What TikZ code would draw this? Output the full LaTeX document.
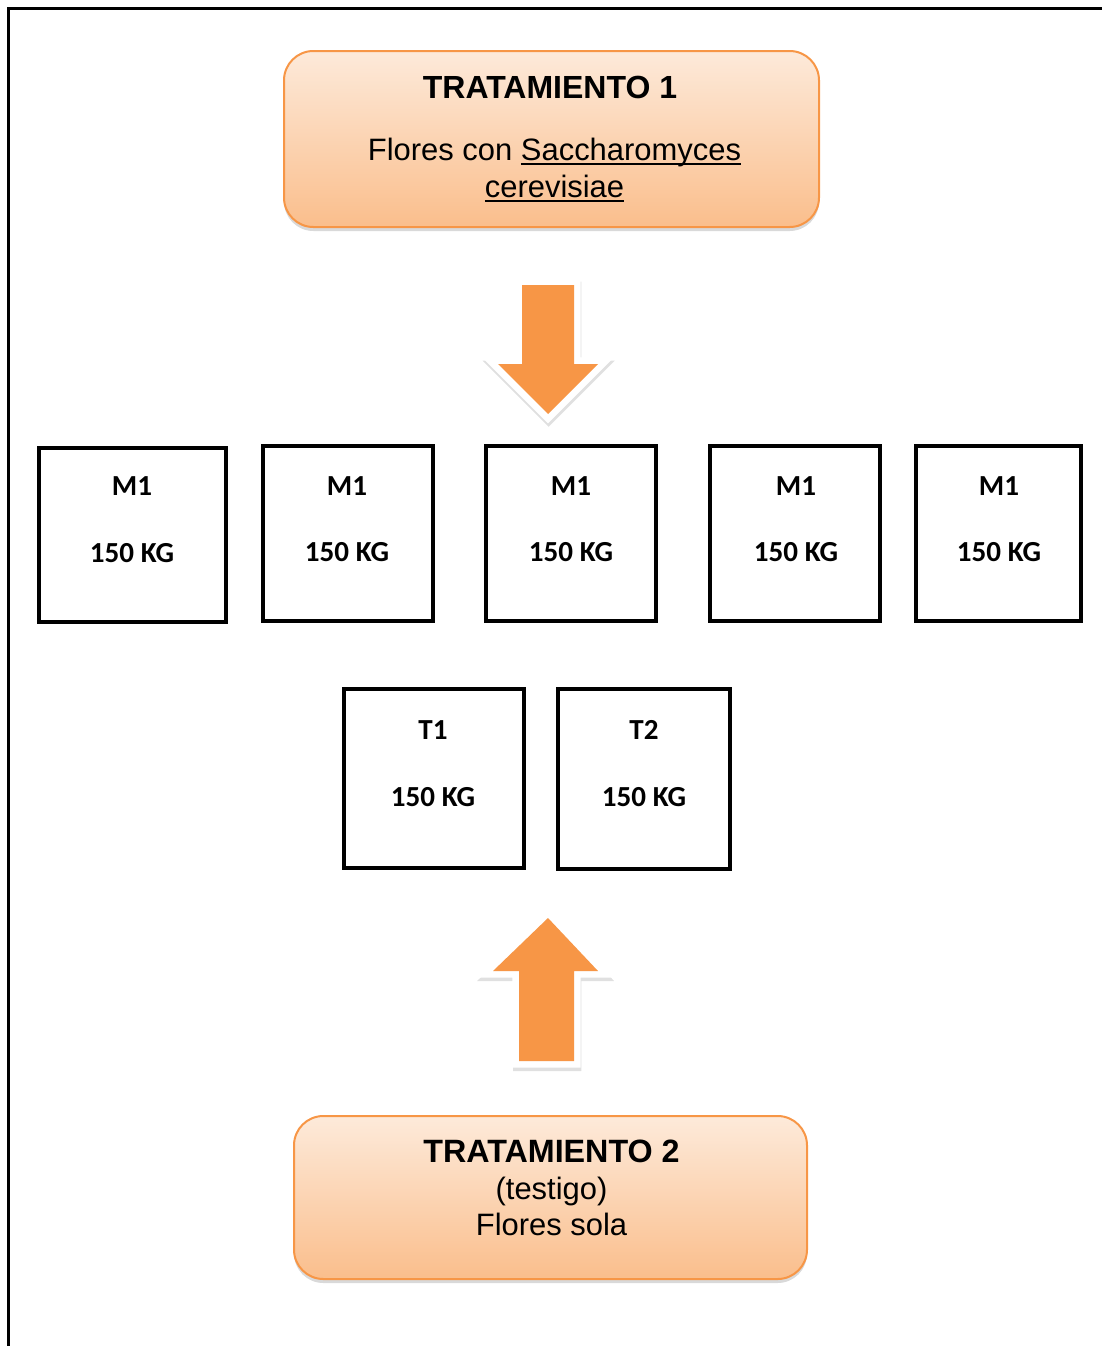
\documentclass[tikz,border=0pt]{standalone}
\usepackage{fontspec}
\setmainfont{Liberation Sans}
\newfontfamily\calibrifont{Carlito}
\usetikzlibrary{positioning, fit, shadows}

\newsavebox\ulbox
\newcommand{\ulword}[1]{\sbox\ulbox{#1}\rlap{\rule[-3.5pt]{\wd\ulbox}{1.3pt}}\usebox\ulbox}

\definecolor{accorange}{RGB}{247,150,70}
\definecolor{gradtop}{RGB}{253,234,218}
\definecolor{gradbot}{RGB}{250,190,140}

\tikzset{
    tratbox/.style={draw=accorange, line width=1.5pt, rounded corners=22pt, top color=gradtop, bottom color=gradbot, inner sep=0pt, drop shadow={shadow xshift=0pt, shadow yshift=-3pt, opacity=0.3}},
    tratext/.style={align=center, inner sep=0pt, font=\fontsize{23.2}{27.5}\selectfont},
    mbox/.style={draw=black, line width=3.2pt, inner sep=0pt},
    mtext/.style={align=center, inner sep=0pt, font=\calibrifont\bfseries\fontsize{21.8}{50}\selectfont},
    blockarrow/.style={fill=accorange, line join=miter,
        preaction={draw=black!12, fill=black!12, line width=10pt, line join=miter, transform canvas={shift={(0.5pt,-2.5pt)}}},
        preaction={draw=white, line width=10pt, line join=miter}}
}

\begin{document}
\begin{tikzpicture}[x=0.75pt, y=-0.75pt]
        \useasboundingbox (0,0) rectangle (1101,1346);

        % -----------------------------------------------------------------
        % MARCO
        % -----------------------------------------------------------------
        \draw[line width=2.4pt] (8.5,1350) -- (8.5,8.5) -- (1105,8.5);

        % -----------------------------------------------------------------
        % TRATAMIENTO 1
        % -----------------------------------------------------------------
        \node[tratbox, fit={(284,51) (819,227)}] (trat1) {};
        \node[tratext, font=\bfseries\fontsize{24}{27.5}\selectfont] (trat1title) at (550,87) {TRATAMIENTO 1};
        \node[tratext] (trat1body) at (554.5,170) {Flores con \ulword{Saccharomyces}\\\ulword{cerevisiae}};

        % flecha hacia abajo
        \path[blockarrow] (522,285) -- (574,285) -- (574,364) -- (598,364) -- (548,414) -- (498,364) -- (522,364) -- cycle;

        % -----------------------------------------------------------------
        % MUESTRAS M1
        % -----------------------------------------------------------------
        \node[mbox, fit={(39,448) (226,622)}] (m1a) {};
        \node[mtext] (m1atext) at (132,519.5) {M1\\150 KG};

        \node[mbox, fit={(263,446) (433,621)}] (m1b) {};
        \node[mtext] (m1btext) at (347,519) {M1\\150 KG};

        \node[mbox, fit={(486,446) (656,621)}] (m1c) {};
        \node[mtext] (m1ctext) at (571,519) {M1\\150 KG};

        \node[mbox, fit={(710,446) (880,621)}] (m1d) {};
        \node[mtext] (m1dtext) at (796,519) {M1\\150 KG};

        \node[mbox, fit={(916,446) (1081,621)}] (m1e) {};
        \node[mtext] (m1etext) at (999,519) {M1\\150 KG};

        % -----------------------------------------------------------------
        % TESTIGOS T1 y T2
        % -----------------------------------------------------------------
        \node[mbox, fit={(344,689) (524,868)}] (t1) {};
        \node[mtext] (t1text) at (433,763.5) {T1\\150 KG};

        \node[mbox, fit={(558,689) (730,869)}] (t2) {};
        \node[mtext] (t2text) at (644,763.5) {T2\\150 KG};

        % flecha hacia arriba
        \path[blockarrow] (548,918) -- (598,971) -- (574,971) -- (574,1061) -- (519,1061) -- (519,971) -- (493,971) -- cycle;

        % -----------------------------------------------------------------
        % TRATAMIENTO 2
        % -----------------------------------------------------------------
        \node[tratbox, fit={(294,1116) (807,1279)}] (trat2) {};
        \node[tratext] (trat2text) at (551.5,1188) {{\bfseries\fontsize{24.2}{27.5}\selectfont TRATAMIENTO 2}\\(testigo)\\Flores sola};

\end{tikzpicture}
\end{document}
